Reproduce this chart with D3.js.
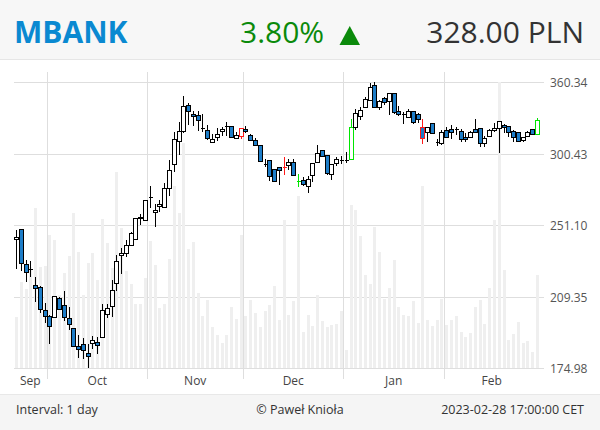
<!DOCTYPE html>
<html><head><meta charset="utf-8">
<script src="https://cdn.jsdelivr.net/npm/d3@7"></script>
<style>
html,body{margin:0;padding:0;background:#fff;}
svg{display:block;font-family:"Open Sans",sans-serif;}
</style></head><body>
<svg id="c" width="600" height="430"></svg>
<script>
const ticker = "MBANK";
const changePct = "3.80%";
const lastPrice = "328.00 PLN";
const footerLeft = "Interval: 1 day";
const footerMid = "© Paweł Knioła";
const footerRight = "2023-02-28 17:00:00 CET";

const dates = [
"2022-09-22","2022-09-23","2022-09-26","2022-09-27","2022-09-28","2022-09-29","2022-09-30",
"2022-10-03","2022-10-04","2022-10-05","2022-10-06","2022-10-07","2022-10-10","2022-10-11","2022-10-12","2022-10-13","2022-10-14","2022-10-17","2022-10-18","2022-10-19","2022-10-20","2022-10-21","2022-10-24","2022-10-25","2022-10-26","2022-10-27","2022-10-28","2022-10-31",
"2022-11-02","2022-11-03","2022-11-04","2022-11-07","2022-11-08","2022-11-09","2022-11-10","2022-11-14","2022-11-15","2022-11-16","2022-11-17","2022-11-18","2022-11-21","2022-11-22","2022-11-23","2022-11-24","2022-11-25","2022-11-28","2022-11-29","2022-11-30",
"2022-12-01","2022-12-02","2022-12-05","2022-12-06","2022-12-07","2022-12-08","2022-12-09","2022-12-12","2022-12-13","2022-12-14","2022-12-15","2022-12-16","2022-12-19","2022-12-20","2022-12-21","2022-12-22","2022-12-23","2022-12-27","2022-12-28","2022-12-29","2022-12-30",
"2023-01-02","2023-01-03","2023-01-04","2023-01-05","2023-01-09","2023-01-10","2023-01-11","2023-01-12","2023-01-13","2023-01-16","2023-01-17","2023-01-18","2023-01-19","2023-01-20","2023-01-23","2023-01-24","2023-01-25","2023-01-26","2023-01-27","2023-01-30","2023-01-31",
"2023-02-01","2023-02-02","2023-02-03","2023-02-06","2023-02-07","2023-02-08","2023-02-09","2023-02-10","2023-02-13","2023-02-14","2023-02-15","2023-02-16","2023-02-17","2023-02-20","2023-02-21","2023-02-22","2023-02-23","2023-02-24","2023-02-27","2023-02-28"];

const open = [242.4,248.5,227.7,224.9,215.8,214.7,202.7,199.7,199.4,209.1,205.3,198.5,193.6,185.1,186.1,182.1,186.6,187.2,189.5,200.7,204.6,216.9,232.7,233.9,238.7,242.4,256.0,254.7,270.0,259.5,263.4,262.7,275.6,293.1,310.7,318.9,340.2,332.6,332.1,320.9,319.1,309.8,314.0,318.6,322.4,322.4,313.1,314.9,320.4,315.7,311.8,307.4,293.1,295.9,289.4,290.7,290.7,292.4,294.9,281.0,281.5,277.3,285.1,294.9,303.7,299.9,285.8,294.2,296.1,296.1,296.6,322.0,331.0,338.8,344.6,357.9,338.8,346.0,343.7,350.4,335.1,332.4,329.8,335.1,332.4,322.0,317.5,324.8,310.2,309.0,319.4,319.9,319.9,318.9,314.1,313.6,319.9,320.7,309.5,314.6,319.4,320.7,323.5,322.7,318.9,317.8,311.5,314.6,319.9,316.0];
const high = [248.1,248.5,230.0,229.6,220.2,215.4,206.2,200.2,210.2,209.4,212.7,204.1,193.6,190.3,188.8,186.1,189.9,189.3,205.7,205.8,218.7,232.9,236.9,241.9,247.1,255.5,258.3,267.9,277.6,265.0,267.7,279.2,296.1,318.2,326.2,348.1,342.4,335.1,335.1,332.9,323.2,316.4,321.0,321.5,325.7,322.4,317.8,321.0,322.4,316.4,313.1,307.4,297.1,295.9,289.4,291.1,298.1,296.6,296.6,285.8,283.9,284.4,293.7,307.6,303.7,299.9,293.1,298.1,299.1,302.4,328.2,336.5,338.8,347.5,359.4,360.34,344.6,347.5,350.9,350.4,339.4,334.6,336.8,335.1,333.2,328.2,322.0,324.8,312.0,319.4,322.0,323.5,321.5,319.9,317.0,318.3,328.2,320.7,314.6,319.9,324.8,326.8,324.3,322.7,319.4,317.8,314.1,318.9,320.2,328.9];
const low = [224.7,223.5,217.8,220.2,206.7,201.0,196.1,186.1,199.1,202.7,197.4,192.8,184.8,179.5,179.0,174.98,183.6,181.5,189.5,198.5,199.1,212.7,221.9,231.9,238.3,241.9,251.3,254.7,262.1,250.2,259.7,262.3,270.4,287.2,299.9,316.8,323.2,322.4,318.6,318.0,311.3,309.8,310.5,314.4,314.4,313.6,312.3,312.4,317.0,310.5,306.6,295.1,290.7,280.5,280.5,278.0,285.1,288.7,284.4,276.8,277.3,272.6,280.2,293.7,298.1,285.1,281.5,291.9,293.1,294.2,296.6,319.4,327.6,337.4,344.0,338.8,336.0,340.2,331.8,332.6,331.0,324.3,328.9,324.0,324.8,308.4,309.8,316.4,306.8,307.6,312.8,312.0,315.4,310.2,310.2,313.3,317.0,305.8,306.3,314.1,318.0,301.7,317.0,314.1,310.2,310.2,310.2,314.1,315.4,316.0];
const close = [244.0,228.1,222.9,224.9,214.5,203.1,199.7,194.9,209.8,203.1,199.4,195.6,185.1,183.6,183.3,180.5,188.0,185.7,202.7,203.6,213.2,229.3,233.9,238.7,246.0,255.5,256.5,267.9,270.0,260.8,265.0,275.6,288.7,311.9,318.9,339.8,335.1,330.7,327.4,320.9,313.1,312.3,316.2,320.4,322.4,313.6,315.7,321.0,318.6,311.3,307.8,295.6,293.1,284.1,281.0,288.7,290.7,294.9,285.1,281.0,278.5,282.2,293.7,301.7,299.4,286.3,293.1,296.8,296.1,296.1,321.5,333.2,336.0,345.2,355.8,338.8,344.0,343.1,350.4,334.6,332.4,332.4,335.1,326.2,328.2,312.8,322.0,317.0,310.2,317.5,314.1,318.0,319.9,312.0,312.0,317.8,318.0,309.0,312.8,319.4,321.2,326.8,321.5,318.0,313.6,311.0,313.6,318.0,316.0,328.0];
const volume = [51,86,79,101,160,101,102,133,128,73,95,112,155,116,73,105,115,88,149,125,100,196,140,97,84,64,64,90,127,103,60,64,109,182,155,225,119,126,75,52,68,41,33,25,33,61,49,133,52,68,55,41,57,63,82,48,148,53,67,172,36,53,42,73,47,41,43,44,57,18,163,158,132,93,84,141,116,69,80,108,61,53,52,67,45,182,48,42,48,69,43,48,52,36,31,35,61,68,44,80,148,286,98,28,34,46,25,27,16,93];

const yTicks = [174.98, 209.35, 251.10, 300.43, 360.34];
const monthNames = ["Jan","Feb","Mar","Apr","May","Jun","Jul","Aug","Sep","Oct","Nov","Dec"];
const redDays = ["2022-11-30","2022-12-13","2023-01-25"];
const greenDays = ["2022-12-16","2023-01-03","2023-02-28"];

const W = 600, H = 430;
const plotL = 13.6, plotR = 539.4, axisX = 544;
const yTop = 82.3, yBot = 368.3, gridTop = 72, gridBot = 379;
const blue = "#1d7dc8", red = "#ff1a1a", green = "#00e600";

const svg = d3.select("#c");

// header
svg.append("rect").attr("x",0).attr("y",0).attr("width",W).attr("height",59).attr("fill","#f7f7f7");
svg.append("line").attr("x1",0).attr("x2",W).attr("y1",59.5).attr("y2",59.5).attr("stroke","#e6e6e6");
svg.append("text").attr("x",14).attr("y",43).attr("font-size",30).attr("font-weight",700)
  .attr("fill","#0a89d1").text(ticker);
svg.append("text").attr("x",240).attr("y",43).attr("font-size",30).attr("fill","#0b8a0b").text(changePct);
svg.append("path").attr("d","M339.5,45 L360,45 L349.75,26 Z").attr("fill","#0b8a0b");
svg.append("text").attr("x",584).attr("y",43).attr("font-size",30).attr("text-anchor","end")
  .attr("fill","#333").text(lastPrice);

// footer
svg.append("rect").attr("x",0).attr("y",394).attr("width",W).attr("height",36).attr("fill","#f5f5f5");
svg.append("line").attr("x1",0).attr("x2",W).attr("y1",394.5).attr("y2",394.5).attr("stroke","#e8e8e8");
const fy = 414;
svg.append("text").attr("x",16).attr("y",fy).attr("font-size",12.5).attr("fill","#333").text(footerLeft);
svg.append("text").attr("x",300).attr("y",fy).attr("font-size",12.5).attr("fill","#333").attr("text-anchor","middle").text(footerMid);
svg.append("text").attr("x",584).attr("y",fy).attr("font-size",12.5).attr("fill","#333").attr("text-anchor","end").text(footerRight);

// scales
const x = d3.scaleBand().domain(dates).range([plotL, plotR]).padding(0);
const bw = x.bandwidth();
const y = d3.scaleLog().domain([yTicks[0], yTicks[yTicks.length-1]]).range([yBot, yTop]);
const v = d3.scaleLinear().domain([0, d3.max(volume)]).range([yBot, yTop]);
const cx = d => Math.round(x(d) + bw/2) + 0.5;

// y axis with gridlines
const yAxis = d3.axisRight(y).tickValues(yTicks).tickFormat(d3.format(".2f"))
  .tickSizeInner(-(axisX - plotL)).tickSizeOuter(0).tickPadding(6);
const gy = svg.append("g").attr("transform",`translate(${axisX},0)`).call(yAxis);
gy.select(".domain").remove();
gy.selectAll(".tick line").attr("stroke","#dedede").attr("shape-rendering","crispEdges");
gy.selectAll(".tick text").attr("fill","#555").attr("font-size",12).attr("font-family","Open Sans");

// month boundaries
const monthKey = d => d.slice(0,7);
const months = d3.groups(dates, monthKey);
const monthStarts = months.slice(1).map(m => m[1][0]);
svg.append("g").selectAll("line").data(monthStarts).join("line")
  .attr("x1", d => Math.round(x(d)) + 0.5).attr("x2", d => Math.round(x(d)) + 0.5)
  .attr("y1", gridTop).attr("y2", gridBot).attr("stroke","#dedede");
svg.append("g").selectAll("text").data(months).join("text")
  .attr("x", m => (x(m[1][0]) + x(m[1][m[1].length-1]) + bw) / 2)
  .attr("y", 385).attr("text-anchor","middle").attr("font-size",12).attr("fill","#444")
  .text(m => monthNames[+m[0].slice(5,7) - 1]);

// volume
svg.append("g").attr("shape-rendering","crispEdges").selectAll("rect").data(dates).join("rect")
  .attr("x", (d) => cx(d) - 1.5).attr("width", 3)
  .attr("y", (d,i) => v(volume[i])).attr("height", (d,i) => yBot - v(volume[i]))
  .attr("fill","#efefef");

// candles
const g = svg.append("g").attr("shape-rendering","crispEdges");
dates.forEach((d,i) => {
  const o = open[i], c = close[i];
  let stroke = "#000";
  if (redDays.includes(d)) stroke = red;
  if (greenDays.includes(d)) stroke = green;
  const px = cx(d);
  g.append("line").attr("x1",px).attr("x2",px).attr("y1",y(high[i])).attr("y2",y(low[i])).attr("stroke",stroke);
  const top = Math.round(y(Math.max(o,c))), bot = Math.round(y(Math.min(o,c)));
  if (bot - top < 1) {
    g.append("line").attr("x1",px-2).attr("x2",px+2).attr("y1",top+0.5).attr("y2",top+0.5).attr("stroke",stroke);
  } else {
    g.append("rect").attr("x",px-2).attr("y",top+0.5).attr("width",4).attr("height",bot-top)
      .attr("fill", c >= o ? "#fff" : blue).attr("stroke",stroke);
  }
});
</script></body></html>
